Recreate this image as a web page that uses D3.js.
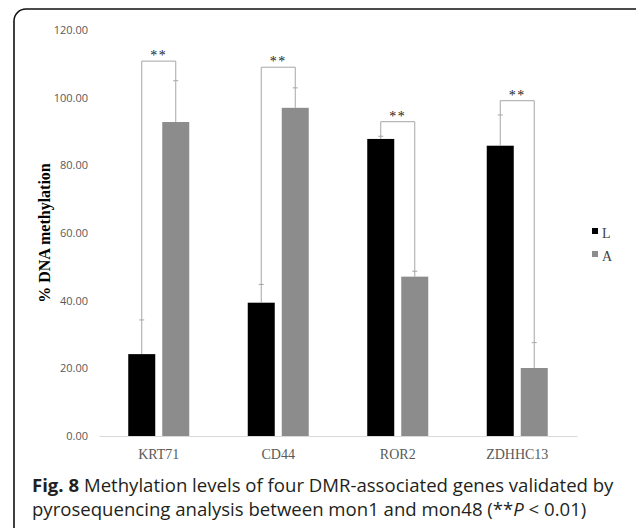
<!DOCTYPE html>
<html>
<head>
<meta charset="utf-8">
<script src="https://cdn.jsdelivr.net/npm/d3@7"></script>
<style>
  html, body { margin: 0; padding: 0; background: #fff; }
  svg { display: block; }
</style>
</head>
<body>
<div id="chart"></div>
<script>
// data
var genes = ["KRT71", "CD44", "ROR2", "ZDHHC13"];
var groups = ["L", "A"];
var meanL = [24.2, 39.4, 87.8, 85.8];
var meanA = [92.8, 97.0, 47.1, 20.1];
var errL = [10.1, 5.4, 0.8, 9.1];
var errA = [12.2, 5.9, 1.6, 7.5];
var bracketTop = [110.8, 109.0, 92.9, 99.1];
var yTicks = [0, 20, 40, 60, 80, 100, 120];

var W = 636, H = 528;

var svg = d3.select("#chart").append("svg")
  .attr("width", W)
  .attr("height", H);

// frame
svg.append("rect")
  .attr("x", 14).attr("y", 9)
  .attr("width", 640).attr("height", 540)
  .attr("rx", 12).attr("ry", 12)
  .attr("fill", "none")
  .attr("stroke", "#111")
  .attr("stroke-width", 1.6);

// scales
var x = d3.scaleBand()
  .domain(genes)
  .range([99, 577])
  .padding(0);

var xg = d3.scaleBand()
  .domain(groups)
  .range([0, x.bandwidth()])
  .paddingInner(0.206)
  .paddingOuter(0.86);

var y = d3.scaleLinear()
  .domain([0, 120])
  .range([436, 30]);

var colors = { L: "#000000", A: "#8c8c8c" };

// y tick labels (no axis line)
var yAxis = svg.append("g")
  .attr("transform", "translate(96,0)")
  .call(d3.axisLeft(y).tickValues(yTicks).tickFormat(d3.format(".2f")).tickSize(0).tickPadding(8));
yAxis.select(".domain").remove();
yAxis.selectAll("text")
  .attr("font-family", "'Open Sans', sans-serif")
  .attr("font-size", 11)
  .attr("fill", "#595959");

// x axis
var xAxis = svg.append("g")
  .attr("transform", "translate(0," + y(0) + ")")
  .call(d3.axisBottom(x).tickSize(0).tickPadding(13));
xAxis.select(".domain").attr("stroke", "#d9d9d9");
xAxis.selectAll("text")
  .attr("font-family", "'Liberation Serif', 'Times New Roman', serif")
  .attr("font-size", 14)
  .attr("fill", "#595959");

// rows for bars
var rows = [];
genes.forEach(function (g, i) {
  rows.push({ gene: g, grp: "L", v: meanL[i], e: errL[i] });
  rows.push({ gene: g, grp: "A", v: meanA[i], e: errA[i] });
});

svg.append("g").selectAll("rect")
  .data(rows)
  .enter().append("rect")
  .attr("x", function (d) { return x(d.gene) + xg(d.grp); })
  .attr("y", function (d) { return y(d.v); })
  .attr("width", xg.bandwidth())
  .attr("height", function (d) { return y(0) - y(d.v); })
  .attr("fill", function (d) { return colors[d.grp]; });

function cx(d) { return x(d.gene) + xg(d.grp) + xg.bandwidth() / 2; }

// error bars (upper half only)
var eb = svg.append("g")
  .attr("stroke", "#a6a6a6")
  .attr("stroke-width", 1);
eb.selectAll("line.stem")
  .data(rows)
  .enter().append("line")
  .attr("class", "stem")
  .attr("x1", cx).attr("x2", cx)
  .attr("y1", function (d) { return y(d.v); })
  .attr("y2", function (d) { return y(d.v + d.e); });
eb.selectAll("line.cap")
  .data(rows)
  .enter().append("line")
  .attr("class", "cap")
  .attr("x1", function (d) { return cx(d) - 2.5; })
  .attr("x2", function (d) { return cx(d) + 2.5; })
  .attr("y1", function (d) { return y(d.v + d.e); })
  .attr("y2", function (d) { return y(d.v + d.e); });

// significance brackets
var br = svg.append("g");
genes.forEach(function (g, i) {
  var xl = x(g) + xg("L") + xg.bandwidth() / 2;
  var xa = x(g) + xg("A") + xg.bandwidth() / 2;
  var yt = y(bracketTop[i]);
  br.append("path")
    .attr("d", "M" + xl + "," + y(meanL[i] + errL[i]) + "V" + yt + "H" + xa + "V" + y(meanA[i] + errA[i]))
    .attr("fill", "none")
    .attr("stroke", "#a6a6a6")
    .attr("stroke-width", 1);
  br.append("text")
    .attr("x", (xl + xa) / 2)
    .attr("y", yt - 1)
    .attr("text-anchor", "middle")
    .attr("font-family", "'Liberation Serif', serif")
    .attr("font-size", 14)
    .attr("letter-spacing", 1.5)
    .attr("fill", "#222")
    .text("**");
});

// y label
svg.append("text")
  .attr("transform", "translate(50,233) rotate(-90)")
  .attr("text-anchor", "middle")
  .attr("font-family", "'Liberation Serif', 'Times New Roman', serif")
  .attr("font-weight", "bold")
  .attr("font-size", 16)
  .attr("fill", "#000")
  .text("% DNA methylation");

// legend
var lg = svg.append("g").attr("transform", "translate(592,0)");
groups.forEach(function (k, i) {
  lg.append("rect")
    .attr("x", 0).attr("y", 228 + i * 23)
    .attr("width", 6).attr("height", 6)
    .attr("fill", colors[k]);
  lg.append("text")
    .attr("x", 10).attr("y", 238 + i * 23)
    .attr("font-family", "'Liberation Serif', serif")
    .attr("font-size", 14)
    .attr("fill", "#404040")
    .text(k);
});

// caption
var cap = svg.append("g")
  .attr("font-family", "'Open Sans', sans-serif")
  .attr("fill", "#231f20");
var line1 = cap.append("text").attr("x", 32).attr("y", 492);
line1.append("tspan").attr("font-weight", "bold").text("Fig. 8");
line1.append("tspan").text(" Methylation levels of four DMR-associated genes validated by");
var line2 = cap.append("text").attr("x", 32).attr("y", 516);
line2.append("tspan").text("pyrosequencing analysis between mon1 and mon48 (**");
line2.append("tspan").attr("font-style", "italic").text("P");
line2.append("tspan").text(" < 0.01)");

// size caption font so line 1 spans to about x=614
cap.attr("font-size", 16);
var w = line1.node().getComputedTextLength();
var fs = 16 * (614 - 32) / w;
cap.attr("font-size", fs);
</script>
</body>
</html>
